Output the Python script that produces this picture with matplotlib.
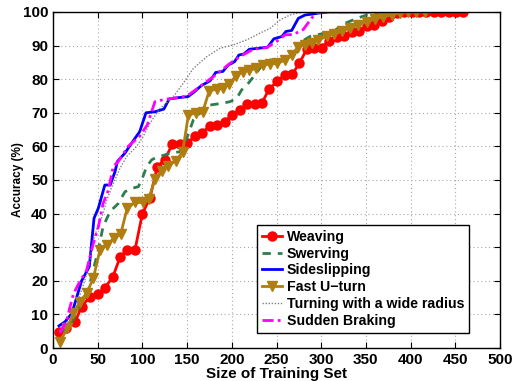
import matplotlib
matplotlib.use("Agg")
import matplotlib.pyplot as plt

plt.rcParams["font.family"] = ["Liberation Sans", "DejaVu Sans"]
plt.rcParams["font.weight"] = "bold"

# Weaving (red, circles)
weaving_x = [6.7, 15, 24.6, 32, 41.4, 50.7, 58, 66.7, 75, 83, 91.7, 100, 108.5, 116.7,
             125, 133.5, 142, 150, 159, 167, 175.6, 183.8, 192, 200.6, 209, 217, 226,
             233.5, 241.6, 251, 259.5, 267.7, 275.5, 283.8, 292.3, 300.5, 308.7, 317.3,
             325.5, 334, 342.3, 351, 359, 367.7, 375.8, 384.4, 392.6, 401, 409, 417.5,
             426, 434, 442.5, 451, 459]
weaving_y = [4.8, 6, 7.7, 12.3, 15.3, 16, 18, 21, 27, 29.2, 29.2, 40, 44.7, 54,
             56, 60.7, 60.7, 61, 63, 64, 66.2, 66.4, 67.4, 69.3, 70.8, 72.6, 72.6,
             72.8, 77, 79.4, 81.3, 81.5, 84.7, 88.9, 89.2, 89.4, 91.5, 92.5,
             92.9, 93.9, 94.2, 95.7, 96.1, 97.3, 98.4, 99.6, 100, 100, 100, 100,
             100, 100, 100, 100, 100]

# Swerving (green dashed)
swerving_x = [7.8, 17, 24.6, 32, 39.5, 45, 50.7, 56, 63.8, 73, 80.5, 88, 95.4, 99.2,
              104.8, 110.4, 114, 131, 142, 149.6, 157, 166, 175.6, 188.7, 198, 205.5,
              211, 218.5, 226, 233.5, 242.7, 256, 267, 272.6, 278, 287.5, 304, 313.5,
              326.6, 339.7, 351, 362, 373, 385, 410]
swerving_y = [4.9, 5.9, 9.3, 13.3, 17.3, 23.2, 29.2, 36.1, 40.6, 43, 46.5, 47.5, 48, 50,
              54, 56, 56.5, 58, 58.4, 62.4, 67.9, 70.3, 72.3, 72.8, 73.3, 74.3,
              76.8, 78.8, 81.3, 84, 85.7, 85.9, 86.8, 87.7, 91.2, 92.7, 93.7, 94.2,
              96.6, 98.1, 99.1, 99.6, 99.8, 100, 100]

# Sideslipping (blue solid)
sideslip_x = [6.7, 13.4, 21, 24.6, 32, 37.6, 40.6, 45.9, 50.7, 58, 64, 69.4, 72, 80.5,
              88, 97, 104, 114, 124, 130, 140, 151, 157, 166, 175.6, 182, 190, 196,
              203, 208, 213.6, 219.6, 240, 247, 256, 260.6, 267, 274.4, 282, 291,
              300.5, 310, 358]
sideslip_y = [6.6, 7.8, 10.3, 13.4, 20, 22.7, 24.2, 38.6, 41.6, 48.5, 48.5, 52.5, 55.5, 58,
              61, 64.4, 70, 70.3, 71.1, 74.1, 74.5, 74.8, 76, 78.1, 79.5, 82, 82.3, 84.2,
              85.2, 87.2, 87.5, 88.9, 89.5, 92, 92.7, 94.2, 94.5, 98.1, 99.1, 99.4,
              99.8, 100, 100]

# Fast U-turn (brown, down triangles)
uturn_x = [7.8, 16, 22.7, 30.2, 37.6, 45, 52.6, 60, 68.2, 75.7, 83, 91.7, 100.3, 107,
           114, 121.6, 129, 137.6, 145, 151.4, 160, 167.5, 174.8, 183, 190.5, 197.2,
           204.7, 212, 219.6, 227, 234.6, 242.7, 251, 259.5, 267, 274.4, 282, 289.4,
           296.8, 306, 314, 323, 332, 341.5, 351, 360, 369.5, 378.8, 388, 397, 406, 416]
uturn_y = [1.9, 5.9, 10.3, 13.8, 16.3, 20.7, 29.2, 30.7, 32.6, 33.9, 41.6, 43.3, 43.3, 44.2,
           50.3, 52.8, 54.3, 55.7, 58.4, 69.3, 70, 70.3, 76.6, 77, 77.3, 78.6,
           81, 82.2, 82.7, 83.2, 84.2, 84.5, 84.7, 85.7, 87.2, 89.7, 90.2, 90.7,
           91.7, 92.7, 93.4, 94.2, 95.1, 96.1, 97.1, 97.9, 98.6, 99.1, 99.8, 100, 100, 100]

# Turning with a wide radius (gray dotted)
turning_x = [6.7, 15, 25, 33, 40, 45, 50, 56, 60, 67.5, 75, 82.4, 93.6, 101, 108.5, 119.7,
             134.6, 145.7, 157, 172, 186.8, 201.7, 216.7, 231.5, 242.7, 254, 265, 272.6,
             282, 300, 360]
turning_y = [5, 7, 12, 18, 24, 32, 36, 40, 44, 49, 53.5, 57, 60, 63, 66.9, 71.3,
             74.8, 78.8, 83.2, 86.7, 89.2, 90.2, 91.7, 93.7, 95.1, 97.6, 99.1, 99.6,
             100, 100, 100]

# Sudden Braking (magenta dash-dot)
braking_x = [7.8, 15, 22.7, 28, 37.6, 45, 50.7, 56, 62, 67.4, 73, 84, 97, 105.5, 114, 125,
             140, 150, 164.4, 183, 198, 209, 224, 239, 250, 259.5, 269, 280, 289.4, 295,
             300, 358]
braking_y = [4.5, 8, 16, 18.8, 23.2, 31, 36, 43, 47, 54, 55.5, 60, 63, 66.4, 73.3, 74,
             74.5, 75, 77.8, 81.5, 84.7, 86.7, 88.9, 89.4, 91.2, 93.2, 93.3, 94.8, 98.2, 99.7,
             100, 100]

fig = plt.figure(figsize=(5.18, 3.81), dpi=100)
ax = fig.add_axes([0.1023, 0.0866, 0.863, 0.882])

ax.plot(weaving_x, weaving_y, color="#ff0000", lw=2.0, marker="o", markersize=6,
        markeredgewidth=1.5, label="Weaving")
ax.plot(swerving_x, swerving_y, color="#2e7d4f", lw=2.0, ls=(0, (3, 2.5)), label="Swerving")
ax.plot(sideslip_x, sideslip_y, color="#0000ff", lw=2.0, label="Sideslipping")
ax.plot(uturn_x, uturn_y, color="#b07d10", lw=2.0, marker="v", markersize=6.5,
        label="Fast U\u2212turn")
ax.plot(turning_x, turning_y, color="#808080", lw=1.0, ls=(0, (1, 1.2)),
        label="Turning with a wide radius")
ax.plot(braking_x, braking_y, color="#ff00ff", lw=2.0, ls=(0, (4, 1.5, 1, 1.5)),
        label="Sudden Braking")

ax.set_xlim(0, 500)
ax.set_ylim(0, 100)
ax.set_xticks(range(0, 501, 50))
ax.set_yticks(range(0, 101, 10))
ax.grid(True, color="#a8a8a8", ls=(0, (1, 2.5)), lw=0.8)
ax.tick_params(direction="in", top=True, right=True, labelsize=11, length=4, width=0.8)
for lab in ax.get_xticklabels() + ax.get_yticklabels():
    lab.set_fontweight("bold")
for sp in ax.spines.values():
    sp.set_linewidth(1.0)

ax.set_xlabel("Size of Training Set", fontsize=11, fontweight="bold", labelpad=0)
ax.set_ylabel("Accuracy (%)", fontsize=8.5, fontweight="bold", labelpad=-1)

leg = ax.legend(loc="lower left", bbox_to_anchor=(0.456, 0.045), fontsize=10.2,
                fancybox=False, framealpha=1, edgecolor="black", handlelength=1.45,
                handletextpad=0.3, borderpad=0.35, labelspacing=0.2, borderaxespad=0)
leg.get_frame().set_linewidth(1.0)
for t in leg.get_texts():
    t.set_fontweight("bold")

fig.savefig("out.png", dpi=100)
